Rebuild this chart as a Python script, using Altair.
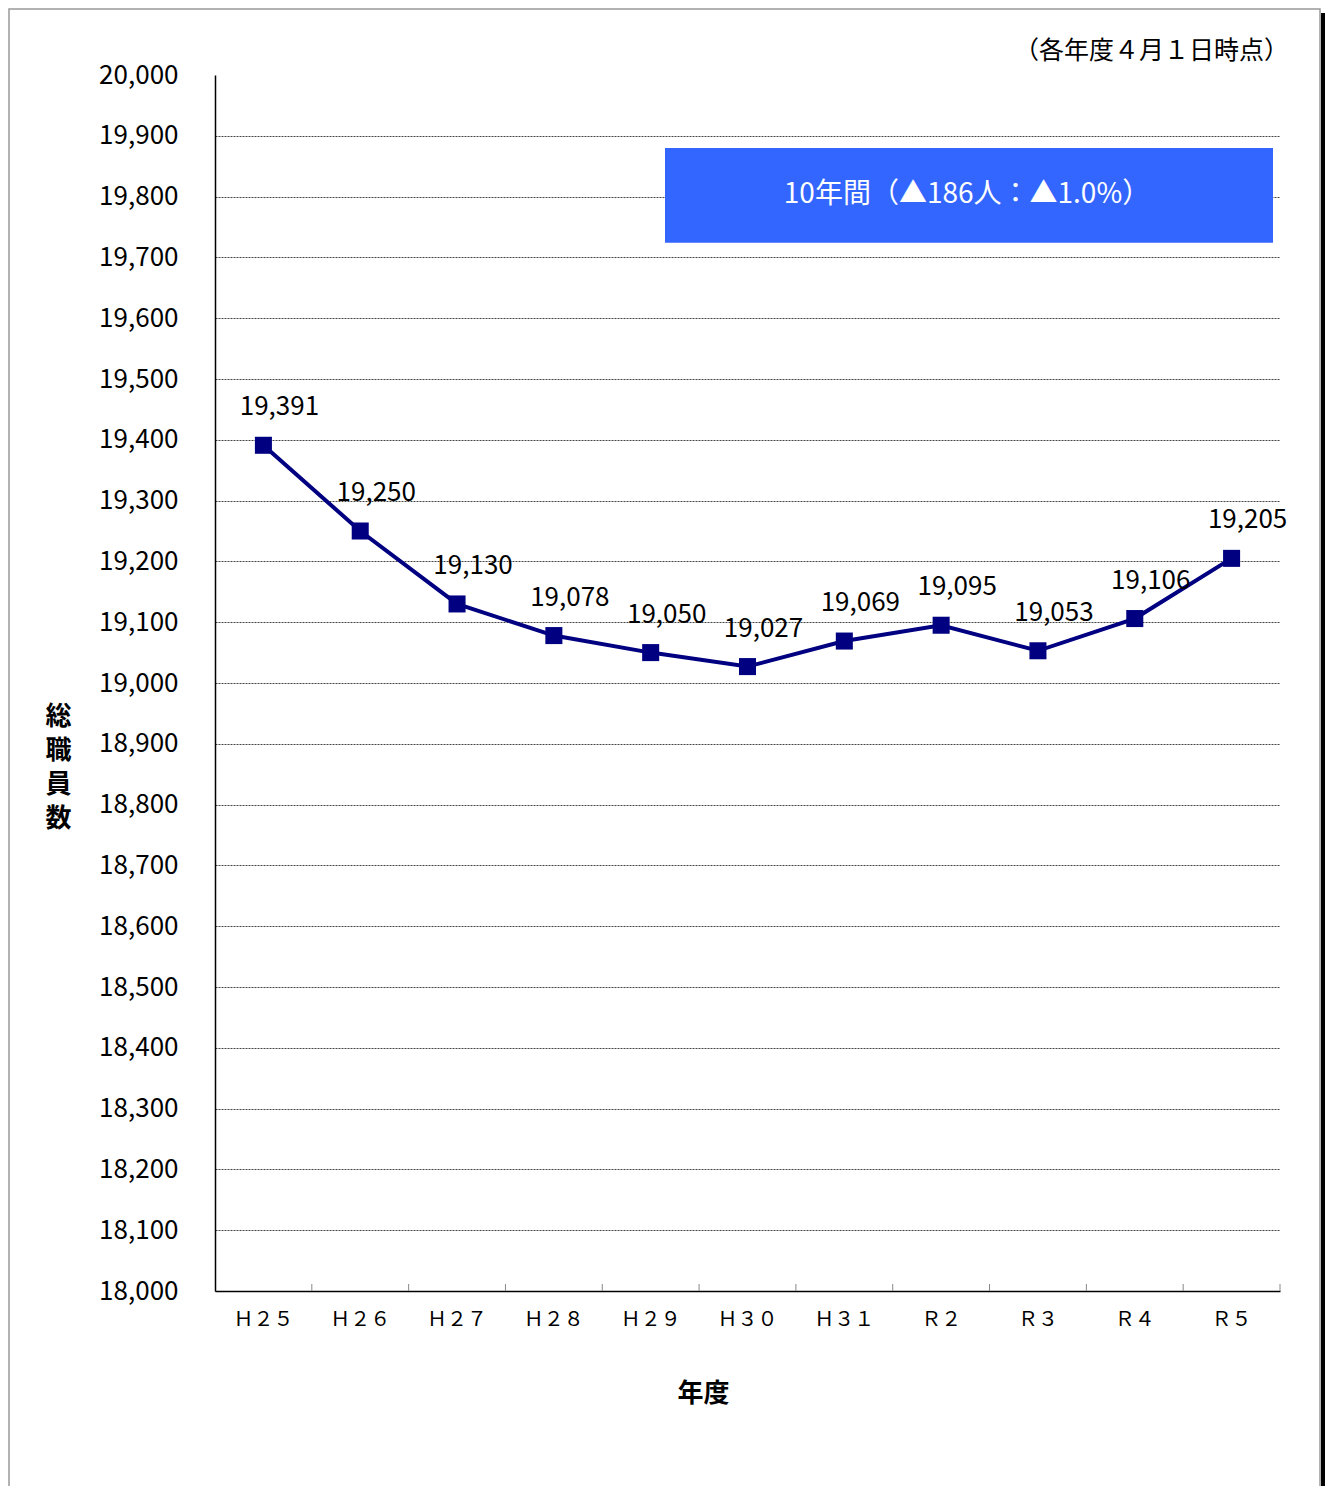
import altair as alt
import pandas as pd

years = ["Ｈ２５", "Ｈ２６", "Ｈ２７", "Ｈ２８", "Ｈ２９", "Ｈ３０", "Ｈ３１", "Ｒ２", "Ｒ３", "Ｒ４", "Ｒ５"]
staff = [19391, 19250, 19130, 19078, 19050, 19027, 19069, 19095, 19053, 19106, 19205]

y_min, y_max, y_step = 18000, 20000, 100
note_text = "（各年度４月１日時点）"
box_text = "10年間（▲186人：▲1.0%）"
box_top, box_bottom = 19880, 19724

FONT = "Noto Sans CJK JP"
W, H = 1065, 1216
NAVY = "#000080"

df = pd.DataFrame({"year": years, "staff": staff})
box_df = pd.DataFrame({"top": [box_top], "bottom": [box_bottom],
                       "mid": [(box_top + box_bottom) / 2], "label": [box_text],
                       "note": [note_text]})

xscale = alt.Scale(type="band", domain=years, paddingInner=0, paddingOuter=0)
yscale = alt.Scale(domain=[y_min, y_max], nice=False, zero=False)

x_axis = alt.Axis(
    title="年度", titleFont=FONT, titleFontSize=26, titleFontWeight="bold",
    titleX=488, titleY=102, titleAlign="center", titleBaseline="middle",
    labelFont=FONT, labelFontSize=20, labelColor="#000", labelAngle=0,
    labelAlign="center", bandPosition=0.5,
    labelPadding=18, ticks=False, domainColor="#000", domainWidth=1.5,
    grid=False, labelFontWeight="normal",
)
y_axis = alt.Axis(
    values=list(range(y_min, y_max + 1, y_step)),
    format=",", labelExpr="format(datum.value, ',')",
    title=["総", "職", "員", "数"], titleAngle=0, titleFont=FONT, titleFontSize=26,
    titleFontWeight="bold", titleX=-157, titleY=628, titleAlign="center",
    titleBaseline="top", titleLineHeight=34,
    labelFont=FONT, labelFontSize=26, labelColor="#000", labelPadding=37,
    ticks=False, domainColor="#000", domainWidth=1.5,
    grid=True, gridColor="#444", gridDash=[2, 1], gridWidth=1,
    gridOpacity={"condition": {"test": "datum.value >= 20000", "value": 0}, "value": 1},
)

X = lambda **kw: alt.X("year:N", scale=xscale, sort=years, axis=x_axis, **kw)

base = alt.Chart(df)

line = base.mark_line(color=NAVY, strokeWidth=4).encode(
    x=X(), y=alt.Y("staff:Q", scale=yscale, axis=y_axis),
)
pts = base.mark_square(color=NAVY, size=290, opacity=1).encode(
    x=X(), y=alt.Y("staff:Q", scale=yscale, axis=y_axis),
)
labels = base.mark_text(font=FONT, fontSize=26, color="#000", dx=16, dy=-38).encode(
    x=X(), y=alt.Y("staff:Q", scale=yscale, axis=y_axis),
    text=alt.Text("staff:Q", format=","),
)
xticks = base.mark_rule(color="#888", strokeWidth=1).encode(
    x=X(bandPosition=1),
    y=alt.value(H - 7), y2=alt.value(H),
)

box = alt.Chart(box_df).mark_rect(color="#3366FF").encode(
    x=alt.value(450), x2=alt.value(1058),
    y=alt.Y("top:Q", scale=yscale, axis=y_axis), y2="bottom:Q",
)
box_label = alt.Chart(box_df).mark_text(font=FONT, fontSize=28, color="white",
                                        align="center", baseline="middle").encode(
    x=alt.value(752), y=alt.Y("mid:Q", scale=yscale, axis=y_axis), text="label:N",
)
note = alt.Chart(box_df).mark_text(font=FONT, fontSize=25, color="#000",
                                   align="right", baseline="middle").encode(
    x=alt.value(W + 9), y=alt.value(-24), text="note:N",
)

frame = alt.Chart(box_df).mark_rect(fill=None, stroke="#999", strokeWidth=1.5).encode(
    x=alt.value(-206), x2=alt.value(1105), y=alt.value(-66), y2=alt.value(1440),
)
shadow = alt.Chart(box_df).mark_rect(color="#000").encode(
    x=alt.value(1106), x2=alt.value(1110), y=alt.value(-62), y2=alt.value(1440),
)

chart = alt.layer(frame, shadow, xticks, box, box_label, note, line, pts, labels).properties(
    width=W, height=H,
    autosize=alt.AutoSizeParams(type="none"),
    padding={"left": 207, "top": 67, "right": 45, "bottom": 195},
).configure(background="white").configure_view(stroke=None)

chart.save("out.html", embed_options={"renderer": "svg", "actions": False})
